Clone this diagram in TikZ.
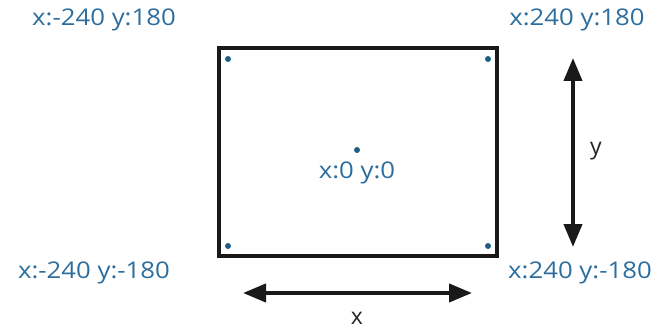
\documentclass[tikz,border=0pt]{standalone}
\usepackage{fontspec}
\setmainfont{Open Sans}
\usetikzlibrary{arrows.meta}
\definecolor{lblue}{HTML}{2D6E9E}
\definecolor{dotc}{HTML}{1F5F86}
\tikzset{
  lbl/.style={text=lblue, font=\fontsize{23}{26}\selectfont, inner sep=0pt, anchor=center, xscale=1.12},
  axl/.style={text=black!85, font=\fontsize{23}{26}\selectfont, inner sep=0pt, anchor=center},
  dot/.style={circle, fill=dotc, inner sep=0pt, minimum size=6pt},
  dbl/.style={line width=4pt, black!90, {Triangle[length=23pt,width=18pt]}-{Triangle[length=23pt,width=18pt]}},
}
\begin{document}
\begin{tikzpicture}[x=1pt,y=-1pt]
\useasboundingbox (0,0) rectangle (657,329);
\draw[line width=4pt, black!90] (219,48) rectangle (497,256);
\node[dot] (tl) at (228,59) {};
\node[dot] (tr) at (488,59) {};
\node[dot] (bl) at (228,246) {};
\node[dot] (br) at (488,246) {};
\node[dot] (c) at (357,150) {};
\node[lbl] (ltl) at (104,20) {x:-240 y:180};
\node[lbl] (ltr) at (577,20) {x:240 y:180};
\node[lbl] (lbl) at (94,273) {x:-240 y:-180};
\node[lbl] (lbr) at (580,273) {x:240 y:-180};
\node[lbl] (lc) at (357,173) {x:0 y:0};
\coordinate (yt) at (573,58);
\coordinate (yb) at (573,247);
\draw[dbl] (yt) -- (yb);
\node[axl] (ly) at (596,151) {y};
\coordinate (xl) at (243,293);
\coordinate (xr) at (472,293);
\draw[dbl] (xl) -- (xr);
\node[axl] (lx) at (357,318) {x};
\end{tikzpicture}
\end{document}
